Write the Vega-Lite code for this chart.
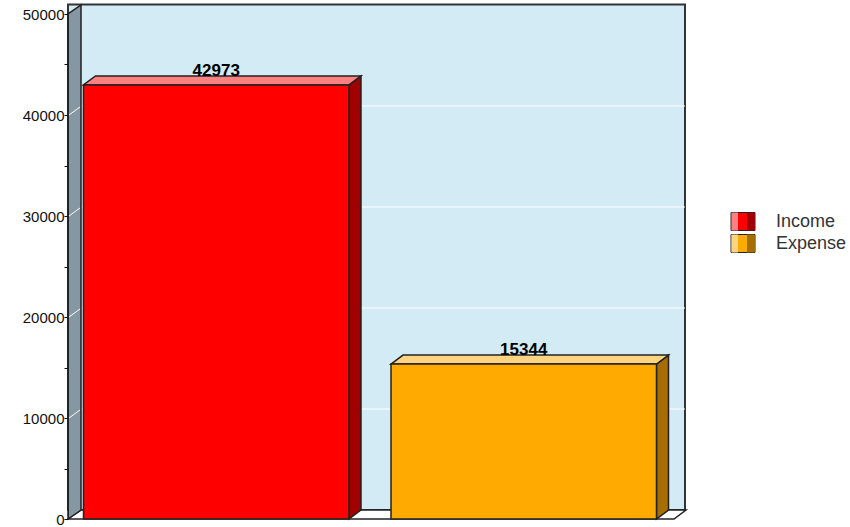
{
"$schema":"https://vega.github.io/schema/vega-lite/v6.json",
"width":604,"height":505,
"autosize":{"type":"none"},
"padding":{"left":68,"top":14,"right":178,"bottom":8},
"background":"#ffffff",
"config":{"view":{"stroke":null},"font":"Liberation Sans"},
"datasets":{
"bars":[{"category":"Income","value":42973},{"category":"Expense","value":15344}],
"ticks":[{"tick":10000},{"tick":20000},{"tick":30000},{"tick":40000}],
"wall":[{"top":50000,"bottom":0}]
},
"resolve":{"scale":{"fill":"independent"}},
"layer":[
{"data":{"name":"wall"},"mark":{"type":"rect","fill":"#D3EBF4","stroke":"#333333","strokeWidth":2,"xOffset":13,"x2Offset":13,"yOffset":-9.5,"y2Offset":-9},
 "encoding":{"y":{"field":"top","type":"quantitative","scale":{"domain":[0,50000],"nice":false},
   "axis":{"title":null,"values":[0,5000,10000,15000,20000,25000,30000,35000,40000,45000,50000],"format":"d","labelExpr":"datum.value % 10000 == 0 ? datum.label : ''","grid":false,"tickSize":4,"tickColor":"#111111","domainColor":"#222222","labelFontSize":15,"labelColor":"#111111","labelPadding":0,"labelFlush":false,"labelOverlap":false,"zindex":1}},"y2":{"field":"bottom"}}},
{"data":{"name":"ticks"},"mark":{"type":"rule","color":"#FFFFFF","strokeWidth":1,"xOffset":13,"x2Offset":13,"yOffset":-9,"y2Offset":-9},
 "encoding":{"y":{"field":"tick","type":"quantitative"}}},
{"data":{"name":"wall"},"mark":{"type":"point","filled":true,"opacity":1,"size":4,"fill":"#FFFFFF","stroke":"#222222","strokeWidth":1.5,"shape":"M-302,0L-289,-9L316,-9L304,0Z"},
 "encoding":{"y":{"field":"bottom","type":"quantitative"}}},
{"data":{"name":"wall"},"mark":{"type":"point","filled":true,"opacity":1,"size":4,"fill":"#8497A2","stroke":"#222222","strokeWidth":1.5,"shape":"M-302,0L-289,-9L-289,-514L-302,-505Z"},
 "encoding":{"y":{"field":"bottom","type":"quantitative"}}},
{"data":{"name":"ticks"},"mark":{"type":"point","filled":false,"opacity":1,"size":4,"stroke":"#FFFFFF","strokeWidth":1,"shape":"M-301,0L-290,-8"},
 "encoding":{"y":{"field":"tick","type":"quantitative"}}},
{"data":{"name":"bars"},"mark":{"type":"point","filled":true,"opacity":1,"size":4,"stroke":"#222222","strokeWidth":1.5},
 "encoding":{
  "x":{"field":"category","type":"nominal","sort":["Income","Expense"],"axis":null,"scale":{"paddingInner":0.1366,"paddingOuter":0.0504}},
  "y":{"field":"value","type":"quantitative"},
  "shape":{"field":"category","type":"nominal","legend":null,"scale":{"domain":["Income","Expense"],"range":["M132.75,0L144.75,-9L144.75,425L132.75,434Z","M132.75,0L144.75,-9L144.75,146L132.75,155Z"]}},
  "fill":{"field":"category","type":"nominal","sort":["Income","Expense"],"scale":{"domain":["Income","Expense"],"range":["#A00000","#A66E00"]},
   "legend":{"title":null,"orient":"none","legendX":674,"legendY":206.5,"zindex":3,"symbolType":"M4,-9H11.5V9H4Z","symbolSize":4,"symbolStrokeWidth":0,"labelExpr":"''","labelFontSize":1,"labelOffset":24,"rowPadding":4}}
 }},
{"data":{"name":"bars"},"mark":{"type":"point","filled":true,"opacity":1,"size":4,"stroke":"#222222","strokeWidth":1.5,"shape":"M-132.75,0L-120.75,-9L144.75,-9L132.75,0Z"},
 "encoding":{
  "x":{"field":"category","type":"nominal","sort":["Income","Expense"]},
  "y":{"field":"value","type":"quantitative"},
  "fill":{"field":"category","type":"nominal","sort":["Income","Expense"],"scale":{"domain":["Income","Expense"],"range":["#FF8080","#FFD480"]},
   "legend":{"title":null,"orient":"none","legendX":674,"legendY":206.5,"zindex":3,"symbolType":"M-11.5,-9H-5V9H-11.5Z","symbolSize":4,"symbolStrokeWidth":0,"labelExpr":"''","labelFontSize":1,"labelOffset":24,"rowPadding":4}}
 }},
{"data":{"name":"bars"},"mark":{"type":"bar","stroke":"#222222","strokeWidth":1.5},
 "encoding":{
  "x":{"field":"category","type":"nominal","sort":["Income","Expense"]},
  "y":{"field":"value","type":"quantitative"},
  "fill":{"field":"category","type":"nominal","sort":["Income","Expense"],"scale":{"domain":["Income","Expense"],"range":["#FF0000","#FFAA00"]},
   "legend":{"title":null,"orient":"none","legendX":666,"legendY":198.5,"zindex":1,"symbolType":"M-12,-9H12V9H-12Z","symbolSize":4,"symbolStrokeColor":"#222222","symbolStrokeWidth":1,"labelColor":"#333333","labelFontSize":18,"labelOffset":24,"rowPadding":0}}
 }},
{"data":{"name":"bars"},"mark":{"type":"text","baseline":"alphabetic","align":"center","fontWeight":"bold","fontSize":17,"color":"#000000","yOffset":-9},
 "encoding":{
  "x":{"field":"category","type":"nominal","sort":["Income","Expense"]},
  "y":{"field":"value","type":"quantitative"},
  "text":{"field":"value","type":"quantitative","format":"d"}
 }}
]
}
